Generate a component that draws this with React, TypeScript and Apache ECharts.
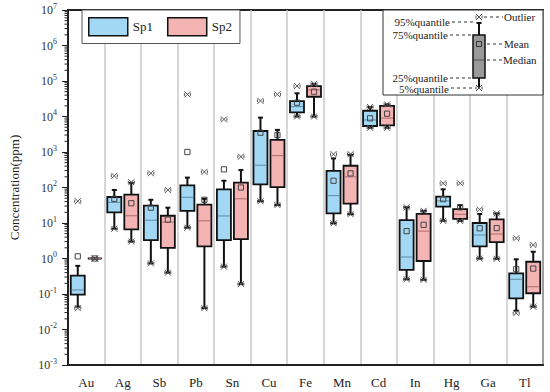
import React, { useEffect, useRef } from 'react';
import * as echarts from 'echarts';

const categories = ['Au', 'Ag', 'Sb', 'Pb', 'Sn', 'Cu', 'Fe', 'Mn', 'Cd', 'In', 'Hg', 'Ga', 'Tl'];

// Sp1 statistics (ppm)
const sp1P5 = [0.044, 6.9, 0.73, 7.4, 0.59, 41, 10000, 9.8, 4800, 0.26, 11.5, 1.0, 0.034];
const sp1P25 = [0.096, 20, 3.3, 22, 3.3, 123, 13000, 18.6, 5400, 0.48, 29, 2.2, 0.075];
const sp1Median = [0.13, 38, 12, 53, 15.8, 425, 19000, 59, 8000, 1.1, 42, 4.6, 0.26];
const sp1P75 = [0.33, 54, 31, 115, 89, 3900, 27000, 295, 14500, 12, 55, 10, 0.38];
const sp1P95 = [0.62, 85, 45, 190, 155, 9300, 45000, 660, 18500, 27.7, 89, 18, 0.95];
const sp1Mean = [1.15, 48, 27, 1000, 325, 3500, 24500, 155, 8900, 5.9, 47, 7.1, 0.5];
const sp1Min = [0.04, 6.9, 0.73, 7.4, 0.59, 41, 10000, 9.8, 4800, 0.26, 11.5, 1.0, 0.029];
const sp1Max = [41, 213, 251, 42000, 8300, 27500, 72000, 870, 18500, 27.7, 131, 24, 3.7];

// Sp2 statistics (ppm)
const sp2P5 = [1, 3.0, 0.40, 0.04, 0.19, 32, 10000, 17.7, 4800, 0.25, 11.4, 0.98, 0.044];
const sp2P25 = [1, 6.6, 2.0, 2.2, 3.5, 102, 36000, 35, 5600, 0.85, 13, 2.9, 0.105];
const sp2Median = [1, 16, 10.6, 11.5, 48, 790, 56000, 200, 9000, 5.9, 17.6, 4.9, 0.16];
const sp2P75 = [1, 63, 16, 33, 138, 2200, 72000, 410, 20000, 18, 24.6, 12.7, 0.81];
const sp2P95 = [1, 135, 27, 48, 310, 4200, 83000, 830, 22000, 22, 32, 18.6, 1.55];
const sp2Mean = [1, 36, 12.4, 45, 100, 3000, 50000, 250, 12000, 8.9, 27.7, 7.2, 0.52];
const sp2Min = [1, 3.0, 0.40, 0.04, 0.19, 32, 10000, 17.7, 4800, 0.25, 11.4, 0.98, 0.044];
const sp2Max = [1, 141, 85, 275, 740, 42000, 83000, 870, 22000, 22, 131, 18.6, 2.4];

// y-axis decades and minor tick multipliers
const decades = [-3, -2, -1, 0, 1, 2, 3, 4, 5, 6];
const minorMultipliers = [2, 3, 4, 5, 6, 7, 8, 9];

const SERIF = 'Liberation Serif';
const SP1_COLOR = '#a3d8f4';
const SP2_COLOR = '#f4b4b4';

function buildData(p5: number[], p25: number[], med: number[], p75: number[], p95: number[], mean: number[], mn: number[], mx: number[]) {
  return categories.map((_, i) => [i, p5[i], p25[i], med[i], p75[i], p95[i], mean[i], mn[i], mx[i]]);
}

const minorTickData: number[][] = [];
decades.forEach((d) => minorMultipliers.forEach((k) => minorTickData.push([0, k * Math.pow(10, d)])));

function xMarkAt(cx: number, y: number, s: number) {
  const st = { stroke: '#555', lineWidth: 1 };
  return [
    { type: 'line', shape: { x1: cx - s, y1: y - s, x2: cx + s, y2: y + s }, style: st },
    { type: 'line', shape: { x1: cx - s, y1: y + s, x2: cx + s, y2: y - s }, style: st },
    { type: 'line', shape: { x1: cx - s, y1: y - 1.5, x2: cx - s, y2: y + 1.5 }, style: st },
    { type: 'line', shape: { x1: cx + s, y1: y - 1.5, x2: cx + s, y2: y + 1.5 }, style: st },
  ];
}

function makeRenderer(offset: number, fill: string, medColor: string) {
  return (params: any, api: any) => {
    const i = api.value(0);
    const cx = api.coord([i, 1])[0] + offset;
    const Y = (k: number) => api.coord([i, api.value(k)])[1];
    const yLow = Y(1), yQ1 = Y(2), yMed = Y(3), yQ3 = Y(4), yHigh = Y(5), yMean = Y(6), yMin = Y(7), yMax = Y(8);
    const bw = 14, cap = 2.5, m = 2.6;
    return {
      type: 'group',
      children: [
        { type: 'line', shape: { x1: cx, y1: yHigh, x2: cx, y2: yLow }, style: { stroke: '#111', lineWidth: 2 } },
        { type: 'line', shape: { x1: cx - cap, y1: yHigh, x2: cx + cap, y2: yHigh }, style: { stroke: '#111', lineWidth: 2 } },
        { type: 'line', shape: { x1: cx - cap, y1: yLow, x2: cx + cap, y2: yLow }, style: { stroke: '#111', lineWidth: 2 } },
        { type: 'rect', shape: { x: cx - bw / 2, y: yQ3, width: bw, height: Math.max(yQ1 - yQ3, 0) }, style: { fill, stroke: '#111', lineWidth: 1.8 } },
        { type: 'line', shape: { x1: cx - bw / 2 + 1, y1: yMed, x2: cx + bw / 2 - 1, y2: yMed }, style: { stroke: medColor, lineWidth: 1 } },
        { type: 'rect', shape: { x: cx - m, y: yMean - m, width: 2 * m, height: 2 * m }, style: { fill: 'none', stroke: '#444', lineWidth: 1 } },
        ...xMarkAt(cx, yMin, 3),
        ...xMarkAt(cx, yMax, 3),
      ],
    };
  };
}

const inset = () => {
  const tx = { fontFamily: SERIF, fontSize: 11, lineHeight: 9, fill: '#222' };
  const dash = (x1: number, x2: number, y: number) => ({ type: 'line', shape: { x1, y1: y, x2, y2: y }, style: { stroke: '#333', lineWidth: 1, lineDash: [3, 3] } });
  const label = (text: string, x: number, y: number, align: string) => ({ type: 'text', x, y, style: { ...tx, text, align, verticalAlign: 'middle' } });
  const cx = 479;
  const els: any[] = [
    { type: 'rect', shape: { x: 383, y: 10, width: 160, height: 85 }, style: { fill: '#fff', stroke: '#333', lineWidth: 1 } },
    { type: 'line', shape: { x1: cx, y1: 23, x2: cx, y2: 88 }, style: { stroke: '#111', lineWidth: 2 } },
    { type: 'line', shape: { x1: cx - 2.5, y1: 23, x2: cx + 2.5, y2: 23 }, style: { stroke: '#111', lineWidth: 2 } },
    { type: 'rect', shape: { x: 473, y: 35, width: 12, height: 43 }, style: { fill: '#999', stroke: '#111', lineWidth: 1.5 } },
    { type: 'line', shape: { x1: 474, y1: 60, x2: 484, y2: 60 }, style: { stroke: '#555', lineWidth: 1 } },
    { type: 'rect', shape: { x: 476.5, y: 41.5, width: 5, height: 5 }, style: { fill: 'none', stroke: '#333', lineWidth: 1 } },
    ...xMarkAt(cx, 17, 3),
    ...xMarkAt(cx, 88, 3),
    label('95%quantile', 450, 22, 'right'),
    dash(452, 474, 22),
    label('75%quantile', 448, 35, 'right'),
    dash(450, 472, 35),
    label('25%quantile', 448, 77.5, 'right'),
    dash(450, 472, 78),
    label('5%quantile', 449, 88.5, 'right'),
    dash(451, 474, 88),
    dash(484, 503, 17),
    label('Outlier', 504, 17, 'left'),
    dash(487, 503, 44),
    label('Mean', 504, 44, 'left'),
    dash(487, 502, 60),
    label('Median', 503, 60, 'left'),
  ];
  return els.map((e, idx) => ({ ...e, z: 20 + (idx === 0 ? 0 : 1) }));
};

export default function App() {
  const ref = useRef<HTMLDivElement>(null);
  useEffect(() => {
    document.body.style.margin = '0';
    if (!ref.current) return;
    const chart = echarts.init(ref.current, null, { renderer: 'svg' });
    chart.setOption({
      animation: false,
      backgroundColor: '#fff',
      grid: { left: 63, right: 7, top: 10, bottom: 27, show: true, borderColor: '#222', borderWidth: 2, backgroundColor: 'transparent' },
      legend: {
        left: 82, top: 10,
        padding: [7, 8, 7, 6],
        itemGap: 14,
        itemWidth: 39, itemHeight: 18,
        borderColor: '#555', borderWidth: 1, backgroundColor: '#fff',
        textStyle: { fontFamily: SERIF, fontSize: 13, color: '#222' },
        data: [
          { name: 'Sp1', icon: 'rect', itemStyle: { color: SP1_COLOR, borderColor: '#111', borderWidth: 1.5 } },
          { name: 'Sp2', icon: 'rect', itemStyle: { color: SP2_COLOR, borderColor: '#111', borderWidth: 1.5 } },
        ],
      },
      xAxis: {
        type: 'category',
        data: categories,
        boundaryGap: true,
        axisLine: { show: true, lineStyle: { color: '#222', width: 2 } },
        axisTick: { show: false, interval: 0 },
        axisLabel: { interval: 0, fontFamily: SERIF, fontSize: 13, color: '#222', margin: 11 },
        splitLine: { show: true, interval: 0, lineStyle: { color: '#c8c8c8', width: 1.5 } },
      },
      yAxis: {
        type: 'log',
        logBase: 10,
        min: 1e-3,
        max: 1e7,
        interval: 1,
        splitNumber: 10,
        name: 'Concentration(ppm)',
        nameLocation: 'middle',
        nameGap: 47,
        nameRotate: 90,
        nameTextStyle: { fontFamily: SERIF, fontSize: 13, color: '#222' },
        axisLine: { show: true, lineStyle: { color: '#222', width: 2 } },
        axisTick: { show: true, length: 6, lineStyle: { color: '#222', width: 1 } },
        minorTick: { show: false },
        splitLine: { show: false },
        axisLabel: {
          margin: 11,
          formatter: (v: number) => `{b|10}{s|${Math.round(Math.log10(v))}}`,
          rich: {
            b: { fontFamily: SERIF, fontSize: 12, color: '#333', lineHeight: 16 },
            s: { fontFamily: SERIF, fontSize: 8, color: '#333', verticalAlign: 'top', lineHeight: 10 },
          },
        },
      },
      series: [
        {
          name: 'minorTicks', type: 'custom',
          silent: true,
          clip: false,
          encode: { x: 0, y: 1 },
          data: minorTickData,
          renderItem: (params: any, api: any) => {
            const y = api.coord([0, api.value(1)])[1];
            const x = params.coordSys.x;
            return { type: 'line', shape: { x1: x - 3.5, y1: y, x2: x, y2: y }, style: { stroke: '#222', lineWidth: 1 } };
          },
          z: 2,
        },
        {
          name: 'Sp1', type: 'custom',
          itemStyle: { color: SP1_COLOR },
          renderItem: makeRenderer(-8.5, SP1_COLOR, '#5a8aa8'),
          encode: { x: 0, y: [1, 2, 3, 4, 5, 6, 7, 8] },
          data: buildData(sp1P5, sp1P25, sp1Median, sp1P75, sp1P95, sp1Mean, sp1Min, sp1Max),
          z: 3,
        },
        {
          name: 'Sp2', type: 'custom',
          itemStyle: { color: SP2_COLOR },
          renderItem: makeRenderer(8.5, SP2_COLOR, '#b06a6a'),
          encode: { x: 0, y: [1, 2, 3, 4, 5, 6, 7, 8] },
          data: buildData(sp2P5, sp2P25, sp2Median, sp2P75, sp2P95, sp2Mean, sp2Min, sp2Max),
          z: 3,
        },
      ],
      graphic: inset(),
    });
    return () => chart.dispose();
  }, []);
  return <div ref={ref} style={{ width: 550, height: 392 }} />;
}
